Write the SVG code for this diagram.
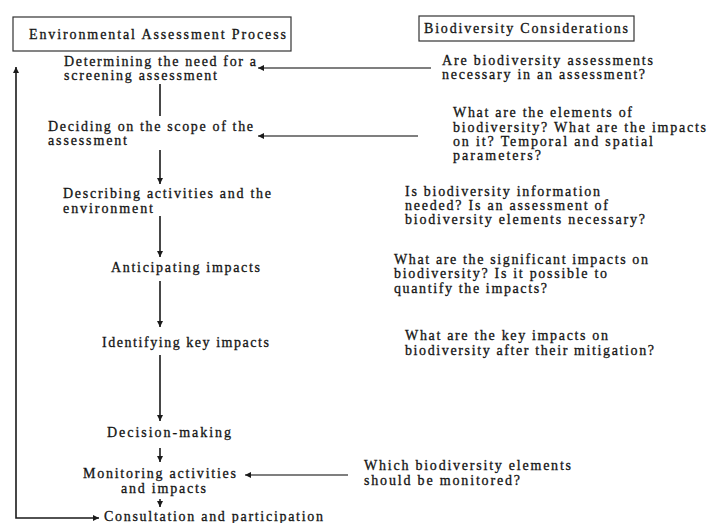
<svg xmlns="http://www.w3.org/2000/svg" width="707" height="523" viewBox="0 0 707 523">
<style>
text{font-family:"Liberation Serif","Times New Roman",serif;font-size:14px;fill:#141414;stroke:#141414;stroke-width:0.3;}
.box{fill:#fff;stroke:#333;stroke-width:1.2;}
.main{stroke:#1a1a1a;stroke-width:1.6;fill:none;}
.side{stroke:#555;stroke-width:1.4;fill:none;}
</style>
<defs>
<marker id="ah" markerUnits="userSpaceOnUse" markerWidth="8" markerHeight="8" refX="6" refY="4" orient="auto-start-reverse">
<path d="M0,1 L6,4 L0,7 Z" fill="#1a1a1a"/>
</marker>
</defs>
<rect width="707" height="523" fill="#fff"/>
<g id="header-process"><rect class="box" x="13" y="17" width="278" height="34"/><text x="29" y="39" textLength="257">Environmental Assessment Process</text></g>
<g id="header-biodiversity"><rect class="box" x="419" y="16" width="215" height="25"/><text x="424" y="33" textLength="204">Biodiversity Considerations</text></g>
<g id="connectors">
<line class="main" x1="160" y1="84" x2="160" y2="116"/>
<line class="main" x1="160" y1="150" x2="160" y2="184" marker-end="url(#ah)"/>
<line class="main" x1="160" y1="216" x2="160" y2="257" marker-end="url(#ah)"/>
<line class="main" x1="160" y1="281" x2="160" y2="327" marker-end="url(#ah)"/>
<line class="main" x1="160" y1="355" x2="160" y2="421" marker-end="url(#ah)"/>
<line class="main" x1="160" y1="448" x2="160" y2="462" marker-end="url(#ah)"/>
<line class="main" x1="160" y1="499" x2="160" y2="507" marker-end="url(#ah)"/>
<polyline class="main" points="99,518 16,518 16,67" marker-start="url(#ah)" marker-end="url(#ah)"/>
<line class="side" x1="431" y1="68" x2="258" y2="68" marker-end="url(#ah)"/>
<line class="side" x1="418" y1="136" x2="258" y2="136" marker-end="url(#ah)"/>
<line class="side" x1="348" y1="475" x2="245" y2="475" marker-end="url(#ah)"/>
</g>
<g id="step-screening"><text x="64" y="66" textLength="192">Determining the need for a</text><text x="64" y="80" textLength="153">screening assessment</text></g>
<g id="step-scope"><text x="48" y="131" textLength="205">Deciding on the scope of the</text><text x="48" y="145" textLength="79">assessment</text></g>
<g id="step-describing"><text x="63" y="198" textLength="208">Describing activities and the</text><text x="63" y="213" textLength="90">environment</text></g>
<g id="step-anticipating"><text x="111" y="272" textLength="149">Anticipating impacts</text></g>
<g id="step-identifying"><text x="102" y="347" textLength="167">Identifying key impacts</text></g>
<g id="step-decision"><text x="107" y="437" textLength="124">Decision-making</text></g>
<g id="step-monitoring"><text x="83" y="478" textLength="153">Monitoring activities</text><text x="121" y="493" textLength="85">and impacts</text></g>
<g id="step-consultation"><text x="104" y="521" textLength="219">Consultation and participation</text></g>
<g id="q-screening"><text x="442" y="65" textLength="211">Are biodiversity assessments</text><text x="442" y="79" textLength="203">necessary in an assessment?</text></g>
<g id="q-scope"><text x="453" y="117" textLength="179">What are the elements of</text><text x="453" y="132" textLength="253">biodiversity? What are the impacts</text><text x="453" y="146" textLength="200">on it? Temporal and spatial</text><text x="453" y="160" textLength="88">parameters?</text></g>
<g id="q-describing"><text x="405" y="196" textLength="195">Is biodiversity information</text><text x="405" y="210" textLength="203">needed? Is an assessment of</text><text x="405" y="224" textLength="240">biodiversity elements necessary?</text></g>
<g id="q-anticipating"><text x="394" y="264" textLength="254">What are the significant impacts on</text><text x="394" y="278" textLength="213">biodiversity? Is it possible to</text><text x="394" y="293" textLength="153">quantify the impacts?</text></g>
<g id="q-identifying"><text x="405" y="340" textLength="203">What are the key impacts on</text><text x="405" y="355" textLength="249">biodiversity after their mitigation?</text></g>
<g id="q-monitoring"><text x="364" y="470" textLength="207">Which biodiversity elements</text><text x="364" y="485" textLength="156">should be monitored?</text></g>
</svg>
